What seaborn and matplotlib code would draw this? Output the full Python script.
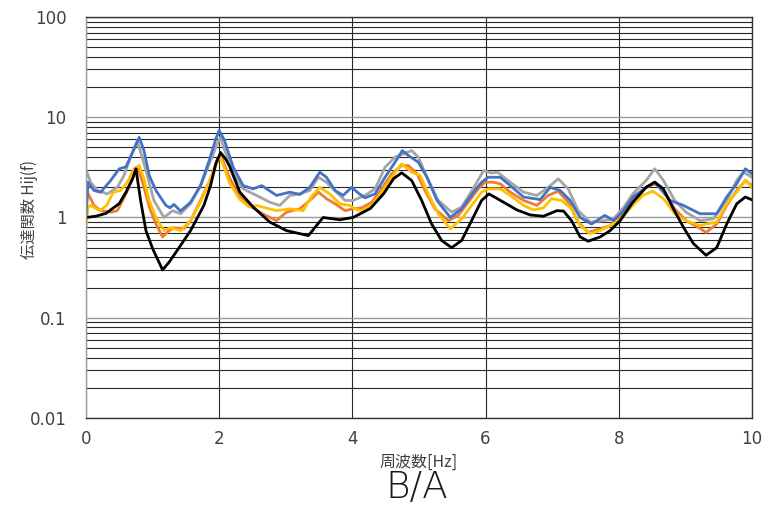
import numpy as np
import pandas as pd
import matplotlib
matplotlib.use("Agg")
import matplotlib.pyplot as plt
import matplotlib.ticker as mticker
import seaborn as sns

# ---- data ----
black_f = [0, 0.15, 0.3, 0.5, 0.6, 0.7, 0.75, 0.82, 0.9, 1.0, 1.15, 1.25, 1.37, 1.57, 1.77, 1.87, 1.95, 2.02, 2.1, 2.16,
           2.31, 2.51, 2.76, 3.01, 3.21, 3.34, 3.46, 3.56, 3.66, 3.81, 4.01, 4.27, 4.47, 4.62, 4.74, 4.89, 5.04, 5.19,
           5.34, 5.49, 5.64, 5.79, 5.94, 6.05, 6.27, 6.47, 6.67, 6.87, 7.07, 7.17, 7.29, 7.42, 7.54, 7.72, 7.87, 8.02,
           8.21, 8.41, 8.54, 8.67, 8.82, 8.97, 9.12, 9.31, 9.47, 9.62, 9.77, 9.9, 10.0]
black_h = [1.0, 1.03, 1.1, 1.38, 1.79, 2.45, 3.06, 1.48, 0.74, 0.49, 0.30, 0.36, 0.47, 0.74, 1.32, 2.08, 3.45, 4.45, 3.8, 3.2,
           1.79, 1.27, 0.90, 0.74, 0.69, 0.66, 0.83, 1.0, 0.98, 0.95, 1.0, 1.23, 1.73, 2.45, 2.79, 2.34, 1.48, 0.86,
           0.59, 0.50, 0.59, 0.93, 1.48, 1.72, 1.42, 1.19, 1.06, 1.03, 1.17, 1.16, 0.93, 0.64, 0.58, 0.64, 0.74, 0.93,
           1.42, 2.0, 2.25, 1.93, 1.22, 0.80, 0.55, 0.42, 0.50, 0.86, 1.37, 1.6, 1.5]

orange_f = [0, 0.02, 0.12, 0.22, 0.37, 0.47, 0.6, 0.7, 0.77, 0.85, 0.95, 1.05, 1.15, 1.25, 1.32, 1.47, 1.57, 1.72, 1.87,
            1.97, 2.03, 2.15, 2.3, 2.45, 2.65, 2.86, 3.01, 3.21, 3.36, 3.49, 3.61, 3.74, 3.89, 4.01, 4.14, 4.29, 4.44,
            4.59, 4.74, 4.84, 4.97, 5.09, 5.24, 5.44, 5.59, 5.74, 5.89, 5.99, 6.11, 6.22, 6.37, 6.57, 6.77, 6.94, 7.09,
            7.24, 7.39, 7.54, 7.72, 7.87, 8.07, 8.21, 8.41, 8.54, 8.67, 8.84, 9.01, 9.19, 9.31, 9.47, 9.62, 9.77, 9.9, 10.0]
orange_h = [1.0, 1.79, 1.32, 1.17, 1.13, 1.17, 1.72, 2.43, 3.17, 2.25, 1.27, 0.86, 0.64, 0.74, 0.79, 0.77, 0.93, 1.48, 2.43,
            3.8, 4.1, 2.52, 1.66, 1.32, 1.09, 0.93, 1.13, 1.22, 1.48, 1.79, 1.54, 1.37, 1.17, 1.22, 1.25, 1.42, 1.93,
            2.73, 3.3, 3.3, 2.73, 1.86, 1.22, 0.93, 1.05, 1.42, 1.93, 2.25, 2.25, 2.17, 1.79, 1.48, 1.32, 1.66, 1.83,
            1.42, 0.90, 0.71, 0.77, 0.83, 1.13, 1.54, 2.0, 2.17, 1.86, 1.22, 0.93, 0.80, 0.71, 0.86, 1.32, 1.86, 2.34, 2.08]

yellow_f = [0, 0.03, 0.06, 0.21, 0.31, 0.41, 0.52, 0.62, 0.72, 0.8, 0.87, 0.95, 1.05, 1.17, 1.27, 1.42, 1.57, 1.72, 1.87,
            2.0, 2.03, 2.15, 2.3, 2.45, 2.56, 2.65, 2.86, 3.06, 3.26, 3.38, 3.51, 3.66, 3.81, 3.96, 4.06, 4.14, 4.29,
            4.44, 4.59, 4.74, 4.89, 5.02, 5.14, 5.29, 5.47, 5.64, 5.79, 5.94, 6.04, 6.22, 6.37, 6.57, 6.72, 6.87, 6.99,
            7.14, 7.29, 7.42, 7.57, 7.72, 7.87, 8.02, 8.21, 8.36, 8.51, 8.67, 8.84, 9.01, 9.22, 9.31, 9.47, 9.62, 9.77,
            9.9, 10.0]
yellow_h = [0.8, 1.25, 1.32, 1.17, 1.32, 1.79, 1.86, 2.25, 3.06, 3.3, 2.43, 1.48, 1.0, 0.74, 0.79, 0.74, 0.93, 1.42, 2.43,
            4.0, 3.85, 2.25, 1.54, 1.27, 1.32, 1.27, 1.17, 1.22, 1.17, 1.6, 2.0, 1.72, 1.37, 1.32, 1.2, 1.17, 1.32,
            1.79, 2.52, 3.43, 2.83, 2.62, 1.72, 1.09, 0.77, 0.97, 1.32, 1.79, 1.93, 1.93, 1.66, 1.32, 1.19, 1.25, 1.54,
            1.48, 1.22, 0.83, 0.69, 0.74, 0.83, 0.95, 1.32, 1.66, 1.83, 1.54, 1.09, 0.93, 0.83, 0.86, 0.90, 1.37, 1.79,
            2.34, 2.0]

gray_f = [0, 0.07, 0.17, 0.32, 0.47, 0.57, 0.67, 0.77, 0.9, 1.02, 1.17, 1.3, 1.42, 1.57, 1.72, 1.87, 1.97, 2.02, 2.06,
          2.21, 2.36, 2.56, 2.76, 2.91, 3.06, 3.21, 3.36, 3.49, 3.61, 3.76, 3.89, 4.01, 4.19, 4.34, 4.49, 4.64, 4.76,
          4.89, 4.99, 5.12, 5.29, 5.49, 5.64, 5.84, 5.97, 6.09, 6.18, 6.37, 6.57, 6.77, 6.94, 7.09, 7.24, 7.39, 7.57,
          7.77, 7.92, 8.07, 8.21, 8.41, 8.54, 8.67, 8.84, 9.01, 9.22, 9.42, 9.62, 9.77, 9.87, 10.0]
gray_h = [3.0, 2.25, 1.86, 1.72, 2.0, 2.62, 4.0, 5.86, 2.94, 1.48, 1.0, 1.17, 1.09, 1.37, 2.08, 3.7, 5.4, 6.3, 5.2,
          2.73, 1.93, 1.66, 1.42, 1.32, 1.66, 1.72, 1.86, 2.52, 2.25, 1.79, 1.48, 1.48, 1.66, 1.93, 3.17, 4.0, 4.3,
          4.65, 4.0, 2.52, 1.48, 1.13, 1.27, 2.08, 2.94, 2.78, 2.83, 2.25, 1.79, 1.66, 2.0, 2.43, 1.93, 1.17, 0.90,
          0.93, 0.97, 1.25, 1.72, 2.34, 3.06, 2.34, 1.48, 1.13, 0.93, 0.97, 1.48, 2.34, 2.83, 2.52]

blue_f = [0, 0.03, 0.12, 0.22, 0.37, 0.5, 0.6, 0.7, 0.8, 0.87, 0.95, 1.05, 1.2, 1.26, 1.32, 1.42, 1.57, 1.72, 1.85, 1.95,
          2.0, 2.08, 2.21, 2.36, 2.51, 2.64, 2.86, 3.06, 3.21, 3.36, 3.51, 3.61, 3.74, 3.86, 3.99, 4.09, 4.19, 4.34,
          4.49, 4.64, 4.75, 4.84, 4.99, 5.12, 5.27, 5.47, 5.64, 5.82, 5.94, 6.04, 6.22, 6.37, 6.57, 6.82, 6.97, 7.12,
          7.27, 7.42, 7.59, 7.79, 7.92, 8.07, 8.21, 8.41, 8.54, 8.77, 8.97, 9.22, 9.47, 9.62, 9.77, 9.9, 10.0]
blue_h = [1.0, 2.25, 1.86, 1.79, 2.34, 3.06, 3.2, 4.48, 6.3, 4.65, 2.62, 1.86, 1.32, 1.25, 1.35, 1.16, 1.42, 2.08, 3.7, 6.1,
          7.4, 5.86, 3.17, 2.08, 1.93, 2.08, 1.66, 1.79, 1.70, 2.0, 2.83, 2.52, 1.86, 1.66, 2.0, 1.75, 1.57, 1.72,
          2.52, 3.56, 4.65, 4.15, 3.56, 2.52, 1.48, 1.0, 1.22, 1.79, 2.25, 2.52, 2.52, 2.08, 1.6, 1.51, 2.0, 1.86,
          1.48, 1.0, 0.86, 1.05, 0.93, 1.17, 1.6, 2.0, 2.25, 1.48, 1.32, 1.09, 1.09, 1.6, 2.17, 3.06, 2.73]

series_names = ["gray", "orange", "yellow", "blue", "black"]
series_colors = ["#A5A5A5", "#ED7D31", "#FFC000", "#4472C4", "#000000"]
x_ticks = [0, 2, 4, 6, 8, 10]
y_ticks = [0.01, 0.1, 1, 10, 100]
y_tick_labels = ["0.01", "0.1", "1", "10", "100"]
title_text = "B/A"
x_label = "周波数[Hz]"
y_label = "伝達関数 Hij(f)"

data_map = {
    "gray": (gray_f, gray_h),
    "orange": (orange_f, orange_h),
    "yellow": (yellow_f, yellow_h),
    "blue": (blue_f, blue_h),
    "black": (black_f, black_h),
}
frames = []
for name in series_names:
    f, h = data_map[name]
    frames.append(pd.DataFrame({"freq": f, "H": h, "series": name}))
df = pd.concat(frames, ignore_index=True)

sns.set_theme(style="white")
plt.rcParams["font.family"] = ["Noto Sans CJK JP", "DejaVu Sans"]

fig = plt.figure(figsize=(7.68, 5.05), dpi=100)
ax = fig.add_axes([86 / 768, 1 - 418 / 505, (752 - 86) / 768, (418 - 17) / 505])

sns.lineplot(data=df, x="freq", y="H", hue="series", hue_order=series_names,
             palette=dict(zip(series_names, series_colors)), estimator=None, sort=False,
             linewidth=2.0, legend=False, ax=ax)

ax.set_yscale("log")
ax.set_xlim(0, 10)
ax.set_ylim(0.01, 100)
ax.set_xticks(x_ticks)
ax.set_xticklabels([str(t) for t in x_ticks])
ax.yaxis.set_major_locator(mticker.FixedLocator(y_ticks))
ax.yaxis.set_major_formatter(mticker.FixedFormatter(y_tick_labels))
ax.yaxis.set_minor_locator(mticker.LogLocator(base=10, subs=np.arange(2, 10)))
ax.yaxis.set_minor_formatter(mticker.NullFormatter())

ax.grid(True, which="major", axis="y", color="#9a9a9a", linewidth=1.0)
ax.grid(True, which="minor", axis="y", color="#262626", linewidth=0.8)
ax.grid(True, which="major", axis="x", color="#262626", linewidth=0.8)
ax.set_axisbelow(True)
for name, sp in ax.spines.items():
    sp.set_color("#9a9a9a" if name == "left" else "#333333")
    sp.set_linewidth(1.0)

ax.tick_params(axis="both", which="both", length=0, labelsize=12, colors="#404040")
ax.tick_params(axis="x", pad=9)
ax.tick_params(axis="y", pad=14)
for lab in ax.get_xticklabels() + ax.get_yticklabels():
    lab.set_family(["DejaVu Sans"])

ax.set_xlabel(x_label, fontsize=11.5, color="#404040", labelpad=4)
ax.set_ylabel(y_label, fontsize=11, color="#404040")
ax.yaxis.set_label_coords((38 - 86) / 666, (418 - 210) / 401)
fig.text((86 + 752) / 2 / 768 - 0.003, 1 - 488 / 505, title_text, ha="center", va="center", fontsize=27,
         color="#1a1a1a", family=["DejaVu Sans"], fontweight="light")

fig.savefig("out.png", dpi=100)
